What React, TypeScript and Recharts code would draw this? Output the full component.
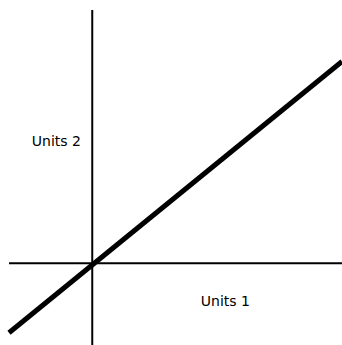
import { LineChart, Line, XAxis, YAxis, ReferenceLine, ReferenceDot } from 'recharts';

// two ends of the straight line, in chart units
const lineX = [-1, 3];
const lineY = [-0.85, 2.47];

const xDomain = [-1, 3];
const yDomain = [-1, 3.1];

const data = lineX.map((x, i) => ({ x, y: lineY[i] }));

export default function App() {
  return (
    <div style={{ position: 'fixed', top: 0, left: 0, background: '#fff' }}>
      <LineChart
        width={342}
        height={345}
        data={data}
        margin={{ top: 10, right: 0, bottom: 0, left: 9 }}
        style={{ fontFamily: 'DejaVu Sans' }}
      >
        <XAxis type="number" dataKey="x" domain={xDomain} hide />
        <YAxis type="number" domain={yDomain} hide />
        <ReferenceLine x={0} stroke="#000" strokeWidth={2} />
        <ReferenceLine y={0} stroke="#000" strokeWidth={2} />
        <Line
          dataKey="y"
          stroke="#000"
          strokeWidth={5}
          dot={false}
          isAnimationActive={false}
        />
        <ReferenceDot
          x={-0.43}
          y={1.5}
          r={0}
          label={{ value: 'Units 2', fill: '#000', fontSize: 14, position: 'center' }}
        />
        <ReferenceDot
          x={1.6}
          y={-0.46}
          r={0}
          label={{ value: 'Units 1', fill: '#000', fontSize: 14, position: 'center' }}
        />
      </LineChart>
    </div>
  );
}
